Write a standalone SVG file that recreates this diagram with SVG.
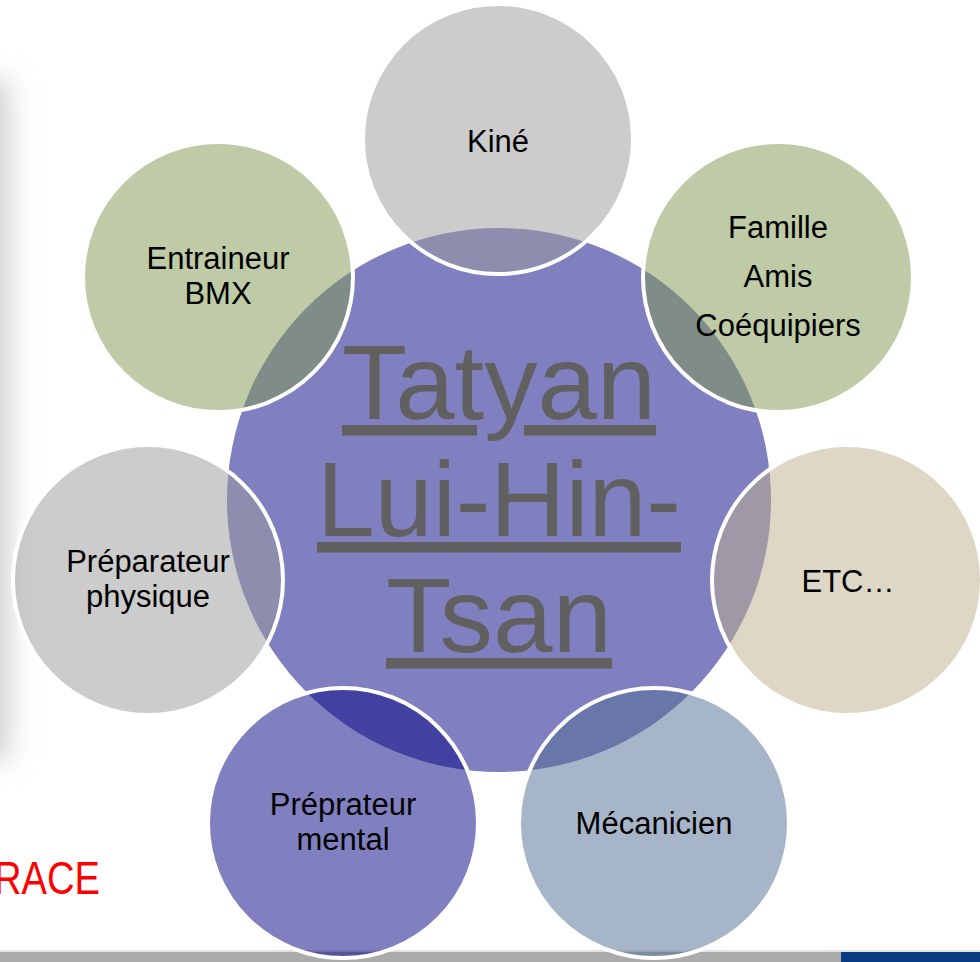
<svg xmlns="http://www.w3.org/2000/svg" width="980" height="962" viewBox="0 0 980 962">
  <defs>
    <filter id="blur" x="-1" y="-0.2" width="3" height="1.4">
      <feGaussianBlur stdDeviation="14"/>
    </filter>
    <style>
      .sat { stroke: #ffffff; stroke-width: 4; fill-opacity: 0.5; }
      .lbl { font-family: "Liberation Sans", Arial, sans-serif; font-size: 31px; fill: #000000; text-anchor: middle; }
      .title { font-family: "Liberation Sans", Arial, sans-serif; font-size: 106px; fill: #606060; text-anchor: middle; text-decoration: underline; }
    </style>
  </defs>
  <rect x="0" y="0" width="980" height="962" fill="#ffffff"/>
  <!-- left shadow -->
  <rect x="-60" y="80" width="68" height="680" fill="#cdcdcd" filter="url(#blur)"/>
  <!-- bottom bar -->
  <rect x="0" y="950" width="980" height="2" fill="#e2e2e2"/>
  <rect x="0" y="952" width="841" height="10" fill="#ababab"/>
  <rect x="841" y="952" width="139" height="10" fill="#083c82"/>
  <!-- RACE -->
  <text x="-6" y="894" font-family="'Liberation Sans', Arial, sans-serif" font-size="46" fill="#ff0000" textLength="106" lengthAdjust="spacingAndGlyphs">RACE</text>

  <g id="center">
    <circle cx="499" cy="500" r="272" fill="#8080c0"/>
    <text class="title" x="499" y="419" textLength="314" lengthAdjust="spacingAndGlyphs">Tatyan</text>
    <text class="title" x="499" y="536" textLength="364" lengthAdjust="spacingAndGlyphs">Lui-Hin-</text>
    <text class="title" x="499" y="652" textLength="226" lengthAdjust="spacingAndGlyphs">Tsan</text>
  </g>

  <g id="kine">
    <circle class="sat" cx="498" cy="139" r="135" fill="#999999"/>
    <text class="lbl" x="498" y="152">Kiné</text>
  </g>
  <g id="famille">
    <circle class="sat" cx="778" cy="277" r="135" fill="#7d974d"/>
    <text class="lbl"><tspan x="778" y="238">Famille</tspan><tspan x="778" y="287">Amis</tspan><tspan x="778" y="336">Coéquipiers</tspan></text>
  </g>
  <g id="etc">
    <circle class="sat" cx="847" cy="580" r="135" fill="#bdaf8d"/>
    <text class="lbl" x="848" y="592">ETC…</text>
  </g>
  <g id="mecanicien">
    <circle class="sat" cx="654" cy="823" r="135" fill="#4f6b93"/>
    <text class="lbl" x="654" y="834">Mécanicien</text>
  </g>
  <g id="mental">
    <circle class="sat" cx="343" cy="823" r="135" fill="#010181"/>
    <text class="lbl"><tspan x="343" y="815">Préprateur</tspan><tspan x="343" y="850">mental</tspan></text>
  </g>
  <g id="physique">
    <circle class="sat" cx="148" cy="580" r="135" fill="#999999"/>
    <text class="lbl"><tspan x="148" y="572">Préparateur</tspan><tspan x="148" y="607">physique</tspan></text>
  </g>
  <g id="entraineur">
    <circle class="sat" cx="218" cy="277" r="135" fill="#7d974d"/>
    <text class="lbl"><tspan x="218" y="269">Entraineur</tspan><tspan x="218" y="304">BMX</tspan></text>
  </g>
  <g id="connectors"></g>
</svg>
